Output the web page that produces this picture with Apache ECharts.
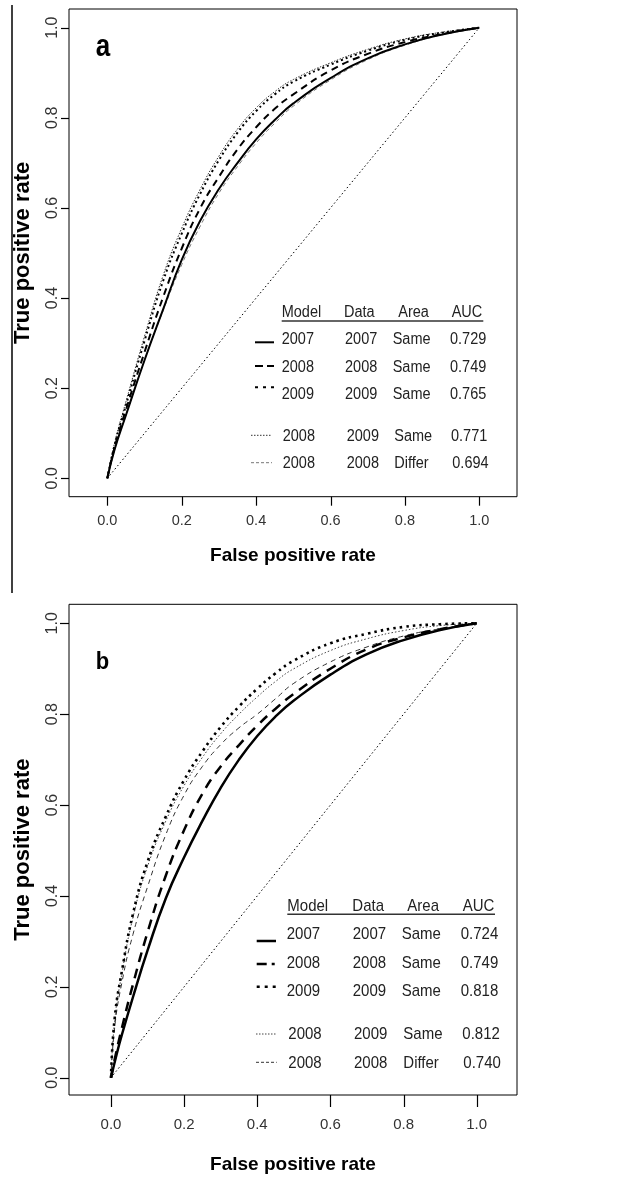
<!DOCTYPE html>
<html><head><meta charset="utf-8">
<script src="https://cdn.jsdelivr.net/npm/echarts@6/dist/echarts.min.js"></script>
<style>html,body{margin:0;padding:0;background:#fff}#c{width:633px;height:1177px}</style>
</head><body><div id="c"></div>
<script>
// ---------- data ----------
const xTicks = [0, 0.2, 0.4, 0.6, 0.8, 1.0];
const yTicks = [0, 0.2, 0.4, 0.6, 0.8, 1.0];
const legendHeader = ['Model', 'Data', 'Area', 'AUC'];
const legendModel = ['2007', '2008', '2009', '2008', '2008'];
const legendData = ['2007', '2008', '2009', '2009', '2008'];
const legendArea = ['Same', 'Same', 'Same', 'Same', 'Differ'];
const aucA = ['0.729', '0.749', '0.765', '0.771', '0.694'];
const aucB = ['0.724', '0.749', '0.818', '0.812', '0.740'];

// panel a: [false positive rate, true positive rate]
const aDiag = [[0, 0], [1, 1]];
const aSolid2007 = [[0,0],[0.02,0.065],[0.05,0.14],[0.1,0.262],[0.15,0.375],[0.2,0.485],[0.25,0.572],[0.3,0.642],[0.35,0.7],[0.4,0.752],[0.45,0.795],[0.5,0.832],[0.6,0.888],[0.7,0.932],[0.8,0.963],[0.9,0.985],[1,1]];
const aDash2008 = [[0,0],[0.02,0.07],[0.05,0.152],[0.1,0.28],[0.15,0.402],[0.2,0.51],[0.25,0.6],[0.3,0.669],[0.35,0.73],[0.4,0.779],[0.45,0.82],[0.5,0.852],[0.6,0.905],[0.7,0.942],[0.8,0.968],[0.9,0.986],[1,1]];
const aDot2009 = [[0,0],[0.02,0.075],[0.05,0.162],[0.1,0.305],[0.15,0.438],[0.2,0.543],[0.25,0.632],[0.3,0.706],[0.35,0.767],[0.4,0.815],[0.45,0.852],[0.5,0.88],[0.6,0.918],[0.7,0.949],[0.8,0.973],[0.9,0.989],[1,1]];
const aThinDot = [[0,0],[0.02,0.08],[0.05,0.17],[0.1,0.315],[0.15,0.45],[0.2,0.555],[0.25,0.642],[0.3,0.715],[0.35,0.775],[0.4,0.822],[0.45,0.858],[0.5,0.885],[0.6,0.922],[0.7,0.952],[0.8,0.975],[0.9,0.99],[1,1]];
const aDiffer = [[0,0],[0.02,0.065],[0.05,0.14],[0.1,0.262],[0.15,0.372],[0.2,0.474],[0.25,0.56],[0.3,0.633],[0.35,0.692],[0.4,0.744],[0.45,0.788],[0.5,0.826],[0.6,0.884],[0.7,0.929],[0.8,0.961],[0.9,0.984],[1,1]];

// panel b
const bDiag = [[0, 0], [1, 1]];
const bSolid2007 = [[0,0],[0.015,0.05],[0.03,0.095],[0.06,0.177],[0.1,0.28],[0.15,0.395],[0.2,0.485],[0.25,0.565],[0.3,0.638],[0.35,0.7],[0.4,0.752],[0.45,0.795],[0.5,0.83],[0.6,0.887],[0.7,0.932],[0.8,0.963],[0.9,0.985],[1,1]];
const bDash2008 = [[0,0],[0.01,0.04],[0.03,0.11],[0.06,0.205],[0.1,0.32],[0.15,0.445],[0.2,0.545],[0.25,0.625],[0.3,0.685],[0.35,0.732],[0.4,0.775],[0.45,0.812],[0.5,0.845],[0.6,0.9],[0.7,0.943],[0.8,0.969],[0.9,0.987],[1,1]];
const bDot2009 = [[0,0],[0.01,0.13],[0.03,0.235],[0.06,0.36],[0.1,0.475],[0.15,0.575],[0.2,0.655],[0.25,0.718],[0.3,0.772],[0.35,0.817],[0.4,0.856],[0.45,0.89],[0.5,0.918],[0.6,0.956],[0.7,0.977],[0.8,0.992],[0.9,0.998],[1,1]];
const bThinDot = [[0,0],[0.01,0.125],[0.03,0.23],[0.06,0.352],[0.1,0.465],[0.15,0.565],[0.2,0.643],[0.25,0.705],[0.3,0.757],[0.35,0.8],[0.4,0.838],[0.45,0.872],[0.5,0.9],[0.6,0.94],[0.7,0.966],[0.8,0.984],[0.9,0.995],[1,1]];
const bDiffer = [[0,0],[0.01,0.11],[0.03,0.21],[0.06,0.315],[0.1,0.42],[0.15,0.535],[0.2,0.622],[0.25,0.685],[0.3,0.733],[0.35,0.77],[0.4,0.8],[0.45,0.834],[0.5,0.868],[0.6,0.915],[0.7,0.948],[0.8,0.972],[0.9,0.988],[1,1]];

// ---------- styles / layout ----------
const FONT = '"Liberation Sans", Arial, Helvetica, sans-serif';
const stA = {
  diag:   {color:'#000', width:1,   type:[1.5,2.5]},
  differ: {color:'#777', width:1,   type:[4,3]},
  thin:   {color:'#333', width:1,   type:[1.5,1.5]},
  solid:  {color:'#000', width:2,   type:'solid'},
  dash:   {color:'#000', width:2,   type:[7,5]},
  dot:    {color:'#000', width:2,   type:[2,3]}
};
const stB = {
  diag:   {color:'#000', width:1,   type:[1.5,2.5]},
  differ: {color:'#333', width:1,   type:[5,4]},
  thin:   {color:'#444', width:1,   type:[1.5,2]},
  solid:  {color:'#000', width:2.5, type:'solid'},
  dash:   {color:'#000', width:2.5, type:[10,7]},
  dot:    {color:'#000', width:2.6, type:[2.5,4]}
};
const GRID = [
  {left: 69, top: 9, width: 448, height: 487.7},
  {left: 69, top: 604.3, width: 448, height: 490.7}
];
const AX = [
  {xMin: -0.103, xMax: 1.1013, yMin: -0.0408, yMax: 1.0415, xTickLen: 9, yTickLen: 8},
  {xMin: -0.1148, xMax: 1.1102, yMin: -0.0381, yMax: 1.0418, xTickLen: 12, yTickLen: 9}
];

function line(data, idx, st, z) {
  return {
    type: 'line', xAxisIndex: idx, yAxisIndex: idx, data: data,
    showSymbol: false, symbol: 'none', silent: true, z: z,
    smooth: 0.5,
    lineStyle: {color: st.color, width: st.width, type: st.type, cap: 'butt'}
  };
}

function xAxis(idx, margin, nameGap, fs) {
  return {
    gridIndex: idx, type: 'value', min: AX[idx].xMin, max: AX[idx].xMax,
    axisLine: {show: false, onZero: false},
    splitLine: {show: false},
    axisTick: {show: false},
    axisLabel: {customValues: xTicks, formatter: v => v.toFixed(1), fontSize: fs, color: '#333', margin: margin, fontFamily: FONT},
    name: 'False positive rate', nameLocation: 'middle', nameGap: nameGap,
    nameTextStyle: {fontWeight: 'bold', fontSize: 19, color: '#000', fontFamily: FONT}
  };
}
function yAxis(idx, margin, nameGap) {
  return {
    gridIndex: idx, type: 'value', min: AX[idx].yMin, max: AX[idx].yMax,
    axisLine: {show: false, onZero: false},
    splitLine: {show: false},
    axisTick: {show: false},
    axisLabel: {customValues: yTicks, formatter: v => v.toFixed(1), fontSize: 16, color: '#333', margin: margin, rotate: 90, fontFamily: FONT},
    name: 'True positive rate', nameLocation: 'middle', nameGap: nameGap, nameRotate: 90,
    nameTextStyle: {fontWeight: 'bold', fontSize: 22, color: '#000', fontFamily: FONT}
  };
}

// tick marks, placed on the same linear axis ranges as the grids
function tickGraphics() {
  const out = [];
  GRID.forEach((g, gi) => {
    const a = AX[gi];
    const bottom = g.top + g.height;
    xTicks.forEach(v => {
      const px = Math.round(g.left + (v - a.xMin) / (a.xMax - a.xMin) * g.width) + 0.5;
      out.push({type: 'rect', zlevel: 1, z: 100, shape: {x: px - 0.6, y: bottom, width: 1.2, height: a.xTickLen}, style: {fill: '#000'}});
    });
    yTicks.forEach(v => {
      const py = Math.round(bottom - (v - a.yMin) / (a.yMax - a.yMin) * g.height) + 0.5;
      out.push({type: 'rect', zlevel: 1, z: 100, shape: {x: g.left - a.yTickLen, y: py - 0.6, width: a.yTickLen, height: 1.2}, style: {fill: '#000'}});
    });
  });
  return out;
}

function legendGraphics(L, auc, st) {
  const out = [];
  const txt = (s, x, y) => out.push({
    type: 'text', x: x, y: y, scaleY: 1.12, z: 100,
    style: {text: s, fontSize: L.fs, fontFamily: FONT, fill: '#222', align: 'left', verticalAlign: 'middle'}
  });
  legendHeader.forEach((h, i) => txt(h, L.hdrX[i], L.hdrY));
  out.push({type: 'line', z: 100, shape: {x1: L.ul[0], y1: L.ulY, x2: L.ul[1], y2: L.ulY}, style: {stroke: '#333', lineWidth: 1.4}});
  const cols = [legendModel, legendData, legendArea, auc];
  for (let r = 0; r < 5; r++) {
    const cx = r < 3 ? L.colA : L.colB;
    cols.forEach((c, j) => txt(c[r], (r === 4 && j === 3) ? L.auc5 : cx[j], L.rowY[r]));
  }
  const keys = ['solid', 'dash', 'dot', 'thin', 'differ'];
  keys.forEach((k, r) => {
    const s = st[k];
    const sx = r < 3 ? L.smpA : L.smpB;
    out.push({type: 'line', z: 100,
      shape: {x1: sx[0], y1: L.smpY[r], x2: sx[1], y2: L.smpY[r]},
      style: {stroke: s.color, lineWidth: s.width, lineDash: (k === 'solid') ? null : (L.legDash[k] || s.type)}});
  });
  return out;
}

const LA = {
  fs: 14.5, hdrY: 312.3, hdrX: [281.7, 344, 398.3, 451.7], ulY: 321, ul: [281.7, 483.3],
  rowY: [340, 367.3, 395, 436.7, 464],
  colA: [281.7, 345, 392.7, 450], colB: [282.7, 346.7, 394.3, 451], auc5: 452.3,
  smpA: [255, 274], smpB: [251, 272], smpY: [342.3, 366, 387.3, 435.3, 462.7],
  legDash: {dash: [8, 4], dot: [3, 5], thin: [1.5, 1.5], differ: [3, 2]}
};
const LB = {
  fs: 15, hdrY: 906, hdrX: [287.3, 352.3, 407.3, 462.7], ulY: 914.3, ul: [287.3, 495],
  rowY: [934.3, 963.3, 991.7, 1034, 1063.3],
  colA: [286.7, 352.7, 401.7, 460.7], colB: [288.3, 354, 403.3, 462.3], auc5: 463.3,
  smpA: [256.7, 276], smpB: [256, 276.7], smpY: [941, 964, 986.7, 1034, 1062.3],
  legDash: {dash: [10, 5, 3, 5], dot: [3, 5], thin: [1.5, 1.5], differ: [3, 2]}
};

const chart = echarts.init(document.getElementById('c'), null, {renderer: 'canvas'});
const option = {
  animation: false,
  backgroundColor: '#fff',
  grid: GRID.map(g => Object.assign({show: true, borderColor: '#000', borderWidth: 1, backgroundColor: 'transparent'}, g)),
  xAxis: [xAxis(0, 17, 50, 14.5), xAxis(1, 22, 60, 15)],
  yAxis: [yAxis(0, 8, 35), yAxis(1, 8, 35)],
  series: [
    line(aDiag, 0, stA.diag, 1),
    line(aDiffer, 0, stA.differ, 2),
    line(aThinDot, 0, stA.thin, 3),
    line(aSolid2007, 0, stA.solid, 4),
    line(aDash2008, 0, stA.dash, 5),
    line(aDot2009, 0, stA.dot, 6),
    line(bDiag, 1, stB.diag, 1),
    line(bDiffer, 1, stB.differ, 2),
    line(bThinDot, 1, stB.thin, 3),
    line(bSolid2007, 1, stB.solid, 4),
    line(bDash2008, 1, stB.dash, 5),
    line(bDot2009, 1, stB.dot, 6)
  ],
  graphic: {
    elements: tickGraphics().concat([
      {type: 'line', z: 100, shape: {x1: 12, y1: 5, x2: 12, y2: 593}, style: {stroke: '#000', lineWidth: 1.5}},
      {type: 'text', x: 103, y: 47.5, scaleY: 1.2, z: 100, style: {text: 'a', fontSize: 26, fontWeight: 'bold', fontFamily: FONT, fill: '#000', align: 'center', verticalAlign: 'middle'}},
      {type: 'text', x: 102.5, y: 662.5, scaleY: 1.06, z: 100, style: {text: 'b', fontSize: 22, fontWeight: 'bold', fontFamily: FONT, fill: '#000', align: 'center', verticalAlign: 'middle'}}
    ], legendGraphics(LA, aucA, stA), legendGraphics(LB, aucB, stB))
  }
};
chart.setOption(option);
</script>
</body></html>
